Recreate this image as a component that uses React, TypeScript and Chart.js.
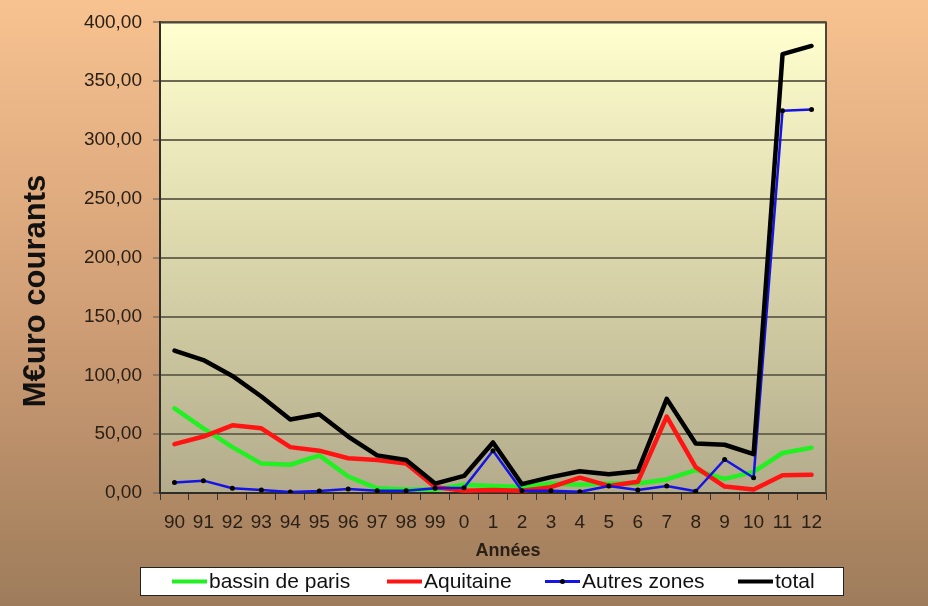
import React, { useEffect, useRef } from "react";
import { Chart, registerables } from "chart.js";

Chart.register(...registerables);

const categories = ["90", "91", "92", "93", "94", "95", "96", "97", "98", "99", "0", "1", "2", "3", "4", "5", "6", "7", "8", "9", "10", "11", "12"];
const bassinDeParis = [72, 55, 39, 25, 24, 32, 14, 4, 3, 3, 7, 6, 5, 8, 7, 8, 8, 11.5, 19.5, 12, 18, 34, 38.5];
const aquitaine = [41.5, 48, 57.5, 55, 39, 36, 29.5, 28, 25, 5, 2, 2.5, 2, 5, 13, 6, 9.5, 65, 22, 5.5, 3, 15, 15.5];
const autresZones = [9, 10.5, 4, 2.5, 0.8, 1.7, 3.4, 2, 2, 4, 4.5, 36, 2, 2, 1, 6, 2.5, 6, 1.5, 28.5, 13, 325, 326];
const total = [121, 113, 99.5, 82, 62.5, 67, 48, 32, 28, 8, 14.5, 43, 7.5, 13.5, 18.5, 16, 18.5, 80, 42, 41, 33, 373, 380];
const seriesNames = ["bassin de paris", "Aquitaine", "Autres zones", "total"];
const yMin = 0;
const yMax = 400;
const yStep = 50;

const FONT = "'Liberation Sans', Arial, sans-serif";

const decorPlugin = {
  id: "decor",
  beforeDraw(chart: any) {
    const { ctx, width, height, chartArea } = chart;
    ctx.save();
    const g = ctx.createLinearGradient(0, 0, 0, height);
    g.addColorStop(0, "#F8C290");
    g.addColorStop(0.5, "#D2A077");
    g.addColorStop(1, "#9E7C5B");
    ctx.fillStyle = g;
    ctx.fillRect(0, 0, width, height);
    const pg = ctx.createLinearGradient(0, chartArea.top, 0, chartArea.bottom);
    pg.addColorStop(0, "#FFFFCF");
    pg.addColorStop(0.45, "#DEDAAE");
    pg.addColorStop(1, "#B3AB8B");
    ctx.fillStyle = pg;
    ctx.fillRect(chartArea.left, chartArea.top, chartArea.right - chartArea.left, chartArea.bottom - chartArea.top);
    ctx.restore();
  },
  afterDraw(chart: any) {
    const { ctx, chartArea } = chart;
    ctx.save();
    ctx.strokeStyle = "#4a4838";
    ctx.lineWidth = 2;
    ctx.beginPath();
    ctx.moveTo(chartArea.left, chartArea.top);
    ctx.lineTo(chartArea.right, chartArea.top);
    ctx.lineTo(chartArea.right, chartArea.bottom);
    ctx.stroke();

    ctx.fillStyle = "#111";
    ctx.font = `bold 31px ${FONT}`;
    ctx.textAlign = "center";
    ctx.textBaseline = "middle";
    ctx.translate(36, 291);
    ctx.rotate(-Math.PI / 2);
    ctx.fillText("M€uro courants", 0, 0);
    ctx.setTransform(1, 0, 0, 1, 0, 0);

    ctx.fillStyle = "#2a2016";
    ctx.font = `bold 18px ${FONT}`;
    ctx.fillText("Années", 508, 551);

    const bx = 140, by = 567, bw = 704, bh = 29;
    ctx.fillStyle = "#ffffff";
    ctx.fillRect(bx, by, bw, bh);
    ctx.strokeStyle = "#222";
    ctx.lineWidth = 1;
    ctx.strokeRect(bx + 0.5, by + 0.5, bw - 1, bh - 1);
    const starts = [172, 387, 545, 738];
    const cy = by + bh / 2;
    chart.data.datasets.forEach((ds: any, i: number) => {
      const x0 = starts[i];
      ctx.strokeStyle = ds.borderColor;
      ctx.lineWidth = i === 2 ? 3 : 4;
      ctx.beginPath();
      ctx.moveTo(x0, cy);
      ctx.lineTo(x0 + 35, cy);
      ctx.stroke();
      if (i === 2) {
        ctx.fillStyle = "#000";
        ctx.beginPath();
        ctx.arc(x0 + 17.5, cy, 2.5, 0, Math.PI * 2);
        ctx.fill();
      }
      ctx.fillStyle = "#111";
      ctx.font = `21px ${FONT}`;
      ctx.textAlign = "left";
      ctx.textBaseline = "middle";
      ctx.fillText(ds.label, x0 + 37, cy + 1);
    });
    ctx.restore();
  },
};

export default function App() {
  const ref = useRef<HTMLCanvasElement | null>(null);
  useEffect(() => {
    document.body.style.margin = "0";
    const canvas = ref.current;
    if (!canvas) return;
    const chart = new Chart(canvas, {
      type: "line",
      data: {
        labels: categories,
        datasets: [
          { label: seriesNames[0], data: bassinDeParis, borderColor: "#22F022", borderWidth: 4.5, pointRadius: 0, order: 3 },
          { label: seriesNames[1], data: aquitaine, borderColor: "#FF1414", borderWidth: 4.5, pointRadius: 0, order: 2 },
          {
            label: seriesNames[2], data: autresZones, borderColor: "#1414E6", borderWidth: 2.5,
            pointRadius: 2.5, pointBackgroundColor: "#000", pointBorderColor: "#000", pointBorderWidth: 0, order: 1,
          },
          { label: seriesNames[3], data: total, borderColor: "#000000", borderWidth: 4.5, pointRadius: 0, order: 0 },
        ],
      },
      options: {
        responsive: false,
        animation: false,
        devicePixelRatio: 1,
        layout: { padding: { top: 22, right: 102, left: 0, bottom: 0 } },
        plugins: { legend: { display: false }, title: { display: false }, tooltip: { enabled: false } },
        elements: { line: { tension: 0, borderCapStyle: "round", borderJoinStyle: "round" } },
        scales: {
          x: {
            type: "category",
            offset: true,
            grid: { offset: true, drawOnChartArea: false, drawTicks: true, tickLength: 7, tickColor: "#333", tickWidth: 1 },
            border: { color: "#2e2e26", width: 2 },
            ticks: { font: { family: FONT, size: 19 }, color: "#2a2016", padding: 11, maxRotation: 0, autoSkip: false },
            afterFit: (s: any) => { s.height = 113; },
          },
          y: {
            min: yMin,
            max: yMax,
            ticks: {
              stepSize: yStep,
              font: { family: FONT, size: 19 },
              color: "#2a2016",
              padding: 11,
              callback: (v: any) => Number(v).toFixed(2).replace(".", ","),
            },
            grid: { color: "#6d6852", lineWidth: 2, tickLength: 7, tickColor: "#555", tickWidth: 1 },
            border: { color: "#2e2e26", width: 2 },
            afterFit: (s: any) => { s.width = 160; },
          },
        },
      },
      plugins: [decorPlugin],
    } as any);
    return () => chart.destroy();
  }, []);
  return (
    <div style={{ position: "fixed", left: 0, top: 0, width: 928, height: 606 }}>
      <canvas ref={ref} width={928} height={606} style={{ width: 928, height: 606, display: "block" }} />
    </div>
  );
}
